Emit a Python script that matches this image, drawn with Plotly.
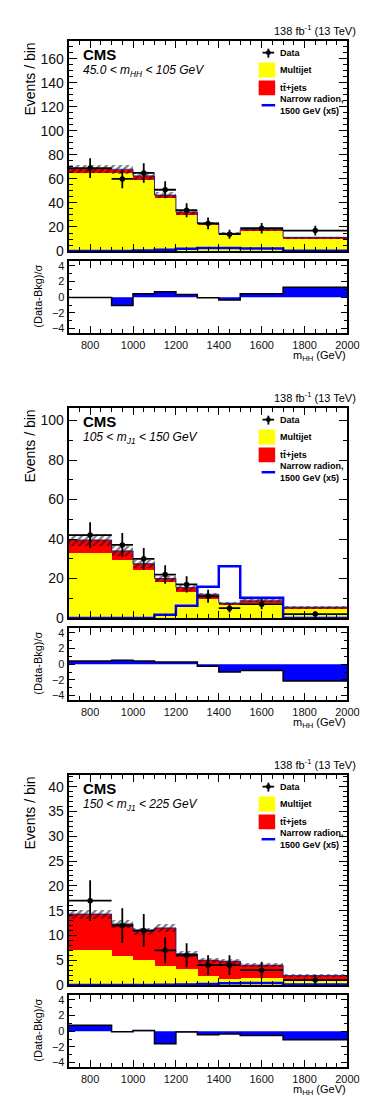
import plotly.graph_objects as go

# binning in m_HH (GeV)
edges = [700, 900, 1000, 1100, 1200, 1300, 1400, 1500, 1700, 2000]

# panel 1: 45.0 < m_HH < 105 GeV
multijet_1 = [65.5, 65.0, 59.5, 44.0, 31.0, 22.0, 14.0, 17.5, 11.0]
ttbar_1 = [3.0, 3.0, 3.0, 2.5, 1.5, 1.0, 0.7, 0.6, 0.4]
bkg_unc_1 = [3.5, 3.5, 3.0, 2.5, 2.0, 1.5, 1.0, 1.0, 0.8]
signal_1 = [0.1, 0.1, 0.4, 1.0, 1.8, 2.6, 2.6, 2.0, 0.2]
data_1 = [69, 60, 65, 51, 34, 23, 14, 19, 17]
data_err_1 = [8.3, 7.7, 8.1, 7.1, 5.8, 4.8, 3.7, 4.4, 4.1]
pull_1 = [-0.05, -1.05, 0.42, 0.67, 0.33, -0.08, -0.37, 0.42, 1.25]

# panel 2: 105 < m_J1 < 150 GeV
multijet_2 = [33.0, 29.5, 24.5, 18.3, 13.3, 10.0, 7.0, 8.0, 5.0]
ttbar_2 = [6.5, 4.5, 3.0, 1.7, 2.2, 2.0, 0.5, 1.0, 0.5]
bkg_unc_2 = [3.0, 2.5, 2.0, 1.5, 1.5, 1.0, 0.8, 0.8, 0.7]
signal_2 = [0.0, 0.0, 0.0, 1.7, 6.2, 15.8, 26.2, 10.3, 0.0]
data_2 = [42, 37, 30, 22, 17, 11, 5, 7, 2]
data_err_2 = [6.5, 6.1, 5.5, 4.7, 4.1, 3.3, 2.2, 2.6, 1.4]
pull_2 = [0.41, 0.49, 0.41, 0.28, 0.28, -0.28, -1.0, -0.81, -2.15]

# panel 3: 150 < m_J1 < 225 GeV
multijet_3 = [7.1, 6.0, 5.0, 3.9, 3.2, 1.8, 1.3, 1.5, 1.0]
ttbar_3 = [7.2, 6.3, 5.8, 7.6, 3.1, 3.2, 3.5, 2.5, 0.9]
bkg_unc_3 = [0.9, 0.8, 0.7, 0.8, 0.6, 0.5, 0.5, 0.4, 0.3]
signal_3 = [0.0, 0.0, 0.0, 0.05, 0.1, 0.2, 0.35, 0.4, 0.1]
data_3 = [17, 12, 11, 7, 6, 4, 4, 3, 1]
data_err_3 = [4.1, 3.5, 3.3, 2.6, 2.4, 2.0, 2.0, 1.7, 1.0]
pull_3 = [0.75, -0.08, 0.08, -1.6, -0.12, -0.45, -0.38, -0.55, -1.1]

region_labels = ["45.0 &lt; m<sub>HH</sub> &lt; 105 GeV",
                 "105 &lt; m<sub>J1</sub> &lt; 150 GeV",
                 "150 &lt; m<sub>J1</sub> &lt; 225 GeV"]
y_ranges = [[0, 175], [0, 106.5], [0, 42.4]]
y_dticks = [20, 20, 5]
y_minor = [5, 10, 1]

panels = [
    (multijet_1, ttbar_1, bkg_unc_1, signal_1, data_1, data_err_1, pull_1),
    (multijet_2, ttbar_2, bkg_unc_2, signal_2, data_2, data_err_2, pull_2),
    (multijet_3, ttbar_3, bkg_unc_3, signal_3, data_3, data_err_3, pull_3),
]

W, H = 374, 1109
FONT = "Liberation Sans, Arial, sans-serif"


def px(x):
    return x / W


def py(y):
    return 1 - y / H


centers = [(a + b) / 2 for a, b in zip(edges[:-1], edges[1:])]
widths = [b - a for a, b in zip(edges[:-1], edges[1:])]
halfw = [w / 2 for w in widths]

fig = go.Figure()
annotations = []
shapes = []

frame = dict(showline=True, linecolor="black", linewidth=2, mirror="allticks",
             ticks="inside", ticklen=7, tickwidth=1, tickcolor="black",
             showgrid=False, zeroline=False)

for i, (mj, tt, unc, sig, dat, derr, pull) in enumerate(panels):
    xm, ym = "x%d" % (2 * i + 1), "y%d" % (2 * i + 1)
    xr, yr = "x%d" % (2 * i + 2), "y%d" % (2 * i + 2)
    if i == 0:
        xm, ym = "x", "y"
    total = [a + b for a, b in zip(mj, tt)]

    fig.add_trace(go.Bar(x=centers, y=mj, width=widths, xaxis=xm, yaxis=ym,
                         marker=dict(color="#ffff00", line=dict(width=0))))
    fig.add_trace(go.Bar(x=centers, y=tt, base=mj, width=widths, xaxis=xm, yaxis=ym,
                         marker=dict(color="#ff0000", line=dict(width=0))))
    fig.add_trace(go.Bar(x=centers, y=[2 * u for u in unc],
                         base=[t - u for t, u in zip(total, unc)],
                         width=widths, xaxis=xm, yaxis=ym,
                         marker=dict(color="rgba(0,0,0,0)", line=dict(width=0),
                                     pattern=dict(shape="/", fgcolor="black",
                                                  bgcolor="rgba(0,0,0,0)",
                                                  size=5, solidity=0.45))))
    fig.add_trace(go.Scatter(x=edges, y=total + [total[-1]], mode="lines",
                             line=dict(shape="hv", color="#20207a", width=1),
                             xaxis=xm, yaxis=ym))
    fig.add_trace(go.Scatter(x=edges, y=sig + [sig[-1]], mode="lines",
                             line=dict(shape="hv", color="#0000ff", width=2.5),
                             xaxis=xm, yaxis=ym))
    fig.add_trace(go.Scatter(x=centers, y=dat, mode="markers", xaxis=xm, yaxis=ym,
                             marker=dict(color="black", size=5.5),
                             error_x=dict(type="data", array=halfw, width=0,
                                          thickness=1.8, color="black"),
                             error_y=dict(type="data", array=derr, width=0,
                                          thickness=1.8, color="black")))
    fig.add_trace(go.Scatter(x=edges, y=pull + [pull[-1]], mode="lines",
                             fill="tozeroy", fillcolor="#0000ff",
                             line=dict(shape="hv", color="black", width=1.5),
                             xaxis=xr, yaxis=yr))

    off = 370 * i
    n = 2 * i + 1
    kx = "xaxis" if n == 1 else "xaxis%d" % n
    ky = "yaxis" if n == 1 else "yaxis%d" % n
    fig.update_layout({
        kx: dict(frame, domain=[px(62.7), px(350.7)], range=[700, 2000], anchor=ym,
                 dtick=200, showticklabels=False,
                 minor=dict(ticks="inside", ticklen=4, tickcolor="black", dtick=50)),
        ky: dict(frame, domain=[py(244 + off), py(32 + off)], range=y_ranges[i],
                 anchor=xm, dtick=y_dticks[i], ticklen=8,
                 tickfont=dict(size=14, color="#111"),
                 minor=dict(ticks="inside", ticklen=4, tickcolor="black", dtick=y_minor[i])),
        "xaxis%d" % (n + 1): dict(frame, domain=[px(62.7), px(350.7)], range=[700, 2000],
                                  anchor=yr, dtick=200, matches=xm,
                                  tickfont=dict(size=11, color="#111"),
                                  minor=dict(ticks="inside", ticklen=4, tickcolor="black", dtick=50)),
        "yaxis%d" % (n + 1): dict(frame, domain=[py(327 + off), py(254 + off)],
                                  range=[-4.6, 4.6], anchor=xr, dtick=2, ticklen=6,
                                  tickfont=dict(size=11, color="#111"),
                                  minor=dict(ticks="inside", ticklen=3, tickcolor="black", dtick=1)),
    })

    txt = dict(xref="paper", yref="paper", showarrow=False)
    annotations += [
        dict(txt, x=px(362), y=py(21 + off), xanchor="right", yanchor="middle",
             text="138 fb<sup>-1</sup> (13 TeV)", font=dict(family=FONT, size=11, color="black")),
        dict(txt, x=px(75), y=py(46 + off), xanchor="left", yanchor="middle",
             text="<b>CMS</b>", font=dict(family=FONT, size=15, color="black")),
        dict(txt, x=px(75), y=py(63 + off), xanchor="left", yanchor="middle",
             text="<i>" + region_labels[i] + "</i>", font=dict(family=FONT, size=12, color="black")),
        dict(txt, x=px(23), y=py(32 + off), xanchor="center", yanchor="top", textangle=-90,
             text="Events / bin", font=dict(family=FONT, size=14, color="black")),
        dict(txt, x=px(31), y=py(290 + off), xanchor="center", yanchor="middle", textangle=-90,
             text="(Data-Bkg)/σ", font=dict(family=FONT, size=11, color="black")),
        dict(txt, x=px(351), y=py(350 + off), xanchor="right", yanchor="middle",
             text="m<sub>HH</sub> (GeV)", font=dict(family=FONT, size=11, color="black")),
    ]
    leg = dict(family=FONT, size=9, color="black")
    for label, yy in [("<b>Data</b>", 44), ("<b>Multijet</b>", 62), ("<b>tt̄+jets</b>", 80),
                      ("<b>Narrow radion,</b>", 91), ("<b>1500 GeV (x5)</b>", 103)]:
        annotations.append(dict(txt, x=px(279), y=py(yy + off), xanchor="left",
                                yanchor="middle", text=label, font=leg))
    pl = dict(xref="paper", yref="paper")
    shapes += [
        dict(pl, type="line", x0=px(263), x1=px(275), y0=py(44 + off), y1=py(44 + off),
             line=dict(color="black", width=1.8)),
        dict(pl, type="line", x0=px(269), x1=px(269), y0=py(40 + off), y1=py(49 + off),
             line=dict(color="black", width=1.8)),
        dict(pl, type="circle", x0=px(266.5), x1=px(271.5), y0=py(41.5 + off), y1=py(46.5 + off),
             fillcolor="black", line=dict(color="black", width=0)),
        dict(pl, type="rect", x0=px(260), x1=px(275), y0=py(55 + off), y1=py(68 + off),
             fillcolor="#ffff00", line=dict(color="#ffff00", width=2)),
        dict(pl, type="rect", x0=px(260), x1=px(275), y0=py(73 + off), y1=py(86 + off),
             fillcolor="#ff0000", line=dict(color="#ff0000", width=2)),
        dict(pl, type="line", x0=px(262), x1=px(276), y0=py(97 + off), y1=py(97 + off),
             line=dict(color="#0000ff", width=2.5)),
    ]

fig.update_layout(width=W, height=H, margin=dict(l=0, r=0, t=0, b=0),
                  paper_bgcolor="white", plot_bgcolor="white",
                  barmode="overlay", bargap=0, showlegend=False,
                  font=dict(family=FONT, color="black"),
                  annotations=annotations, shapes=shapes)

fig.write_html("out.html")
